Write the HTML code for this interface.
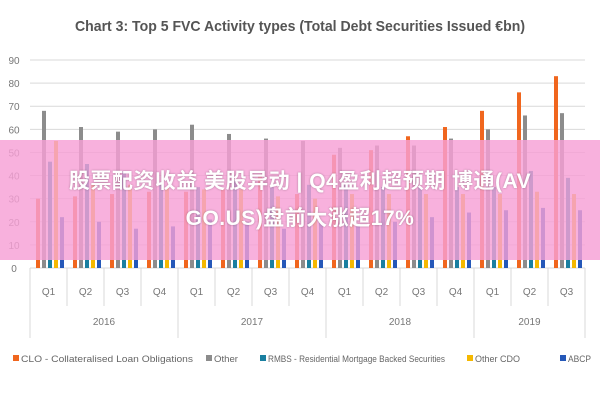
<!DOCTYPE html>
<html><head><meta charset="utf-8">
<style>
body{margin:0;background:#fff;}
#wrap{position:relative;width:600px;height:400px;overflow:hidden;font-family:"Liberation Sans","Noto Sans CJK SC",sans-serif;}
#overlay{position:absolute;left:0;top:140px;width:600px;height:120px;background:rgba(247,160,214,0.82);}
#ovtext{position:absolute;left:0;top:163px;width:600px;text-align:center;color:#fff;font-weight:bold;font-size:21px;line-height:37px;letter-spacing:0.5px;text-shadow:0 0 2px rgba(0,0,0,0.3);}
</style></head><body>
<div id="wrap">
<svg id="chart" width="600" height="400">
<text x="75" y="31" textLength="450" lengthAdjust="spacingAndGlyphs" font-size="15" font-weight="bold" fill="#555" font-family="Liberation Sans, sans-serif">Chart 3: Top 5 FVC Activity types (Total Debt Securities Issued €bn)</text>
<g id="grid"></g><g id="bars"></g><g id="xaxis"></g><g id="legend"></g>
</svg>
<div id="overlay"></div>
<div id="ovtext">股票配资收益 美股异动 | Q4盈利超预期 博通(AV<br>GO.US)盘前大涨超17%</div>
</div>
<script>
const quarters=["Q1","Q2","Q3","Q4","Q1","Q2","Q3","Q4","Q1","Q2","Q3","Q4","Q1","Q2","Q3"];
const years=["2016","2017","2018","2019"];
const yearCounts=[4,4,4,3];
const yTicks=[0,10,20,30,40,50,60,70,80,90];
const seriesNames=["CLO - Collateralised Loan Obligations","Other","RMBS - Residential Mortgage Backed Securities","Other CDO","ABCP"];
const clo=[30,31,32,33,33,34,40,32,49,51,57,61,68,76,83];
const other=[68,61,59,60,62,58,56,55,52,53,53,56,60,66,67];
const rmbs=[46,45,42,36,35,38,35,36,36,35,35,35,35,42,39];
const otherCdo=[55,36,36,35,34,34,31,30,32,32,32,32,32,33,32];
const abcp=[22,20,17,18,21,20,17,20,18,20,22,24,25,26,25];
const colors=["#f0661e","#8c8c8c","#1a7fa0","#f5b800","#2558b8"];
const series=[clo,other,rmbs,otherCdo,abcp];
const NS="http://www.w3.org/2000/svg";
const x0=30,x1=585,y0=268,y90=60;
const gw=(x1-x0)/quarters.length;
const yS=v=>y0-(v/90)*(y0-y90);
function mk(tag,attrs,parent){const e=document.createElementNS(NS,tag);for(const k in attrs)e.setAttribute(k,attrs[k]);parent.appendChild(e);return e;}
const grid=document.getElementById('grid');
yTicks.forEach(t=>{
 const l=mk('line',{x1:x0,x2:x1,y1:yS(t),y2:yS(t),stroke:'#d9d9d9','stroke-width':1},grid);
 
 
 const tx=mk('text',{x:14,y:yS(t)+4,'font-size':10,fill:'#777','text-anchor':'middle'},grid);
 tx.textContent=t;
 
 
});
const bars=document.getElementById('bars');
quarters.forEach((q,i)=>{
 series.forEach((s,j)=>{
  const bx=x0+i*gw+6+j*6;
  const r=mk('rect',{x:bx,y:yS(s[i]),width:4,height:y0-yS(s[i]),fill:colors[j]},bars);
  
  
 });
});
const xa=document.getElementById('xaxis');
quarters.forEach((q,i)=>{
 const t=mk('text',{x:x0+i*gw+gw/2,y:295,'font-size':10,fill:'#777','text-anchor':'middle'},xa);
 t.textContent=q;
 
 
 mk('line',{x1:x0+i*gw,x2:x0+i*gw,y1:y0,y2:306,stroke:'#d9d9d9'},xa);
});
mk('line',{x1:x1,x2:x1,y1:y0,y2:338,stroke:'#d9d9d9'},xa);
let start=0;
years.forEach((yr,k)=>{
 const a=x0+start*gw,b=x0+(start+yearCounts[k])*gw;
 mk('line',{x1:a,x2:a,y1:y0,y2:338,stroke:'#d9d9d9'},xa);
 const t=mk('text',{x:(a+b)/2,y:325,'font-size':10,fill:'#777','text-anchor':'middle'},xa);
 t.textContent=yr;
 
 
 start+=yearCounts[k];
});
const lg=document.getElementById('legend');
const lx=[13,206,260,467,560];
const lw=[172,24,177,45,23];
seriesNames.forEach((n,j)=>{
 const r=mk('rect',{x:lx[j],y:355,width:6,height:6,fill:colors[j]},lg);
 
 
 const t=mk('text',{x:lx[j]+8,y:362,'font-size':9.5,fill:'#666',textLength:lw[j],lengthAdjust:'spacingAndGlyphs'},lg);
 t.textContent=n;
 
 
});
</script>
</body></html>
